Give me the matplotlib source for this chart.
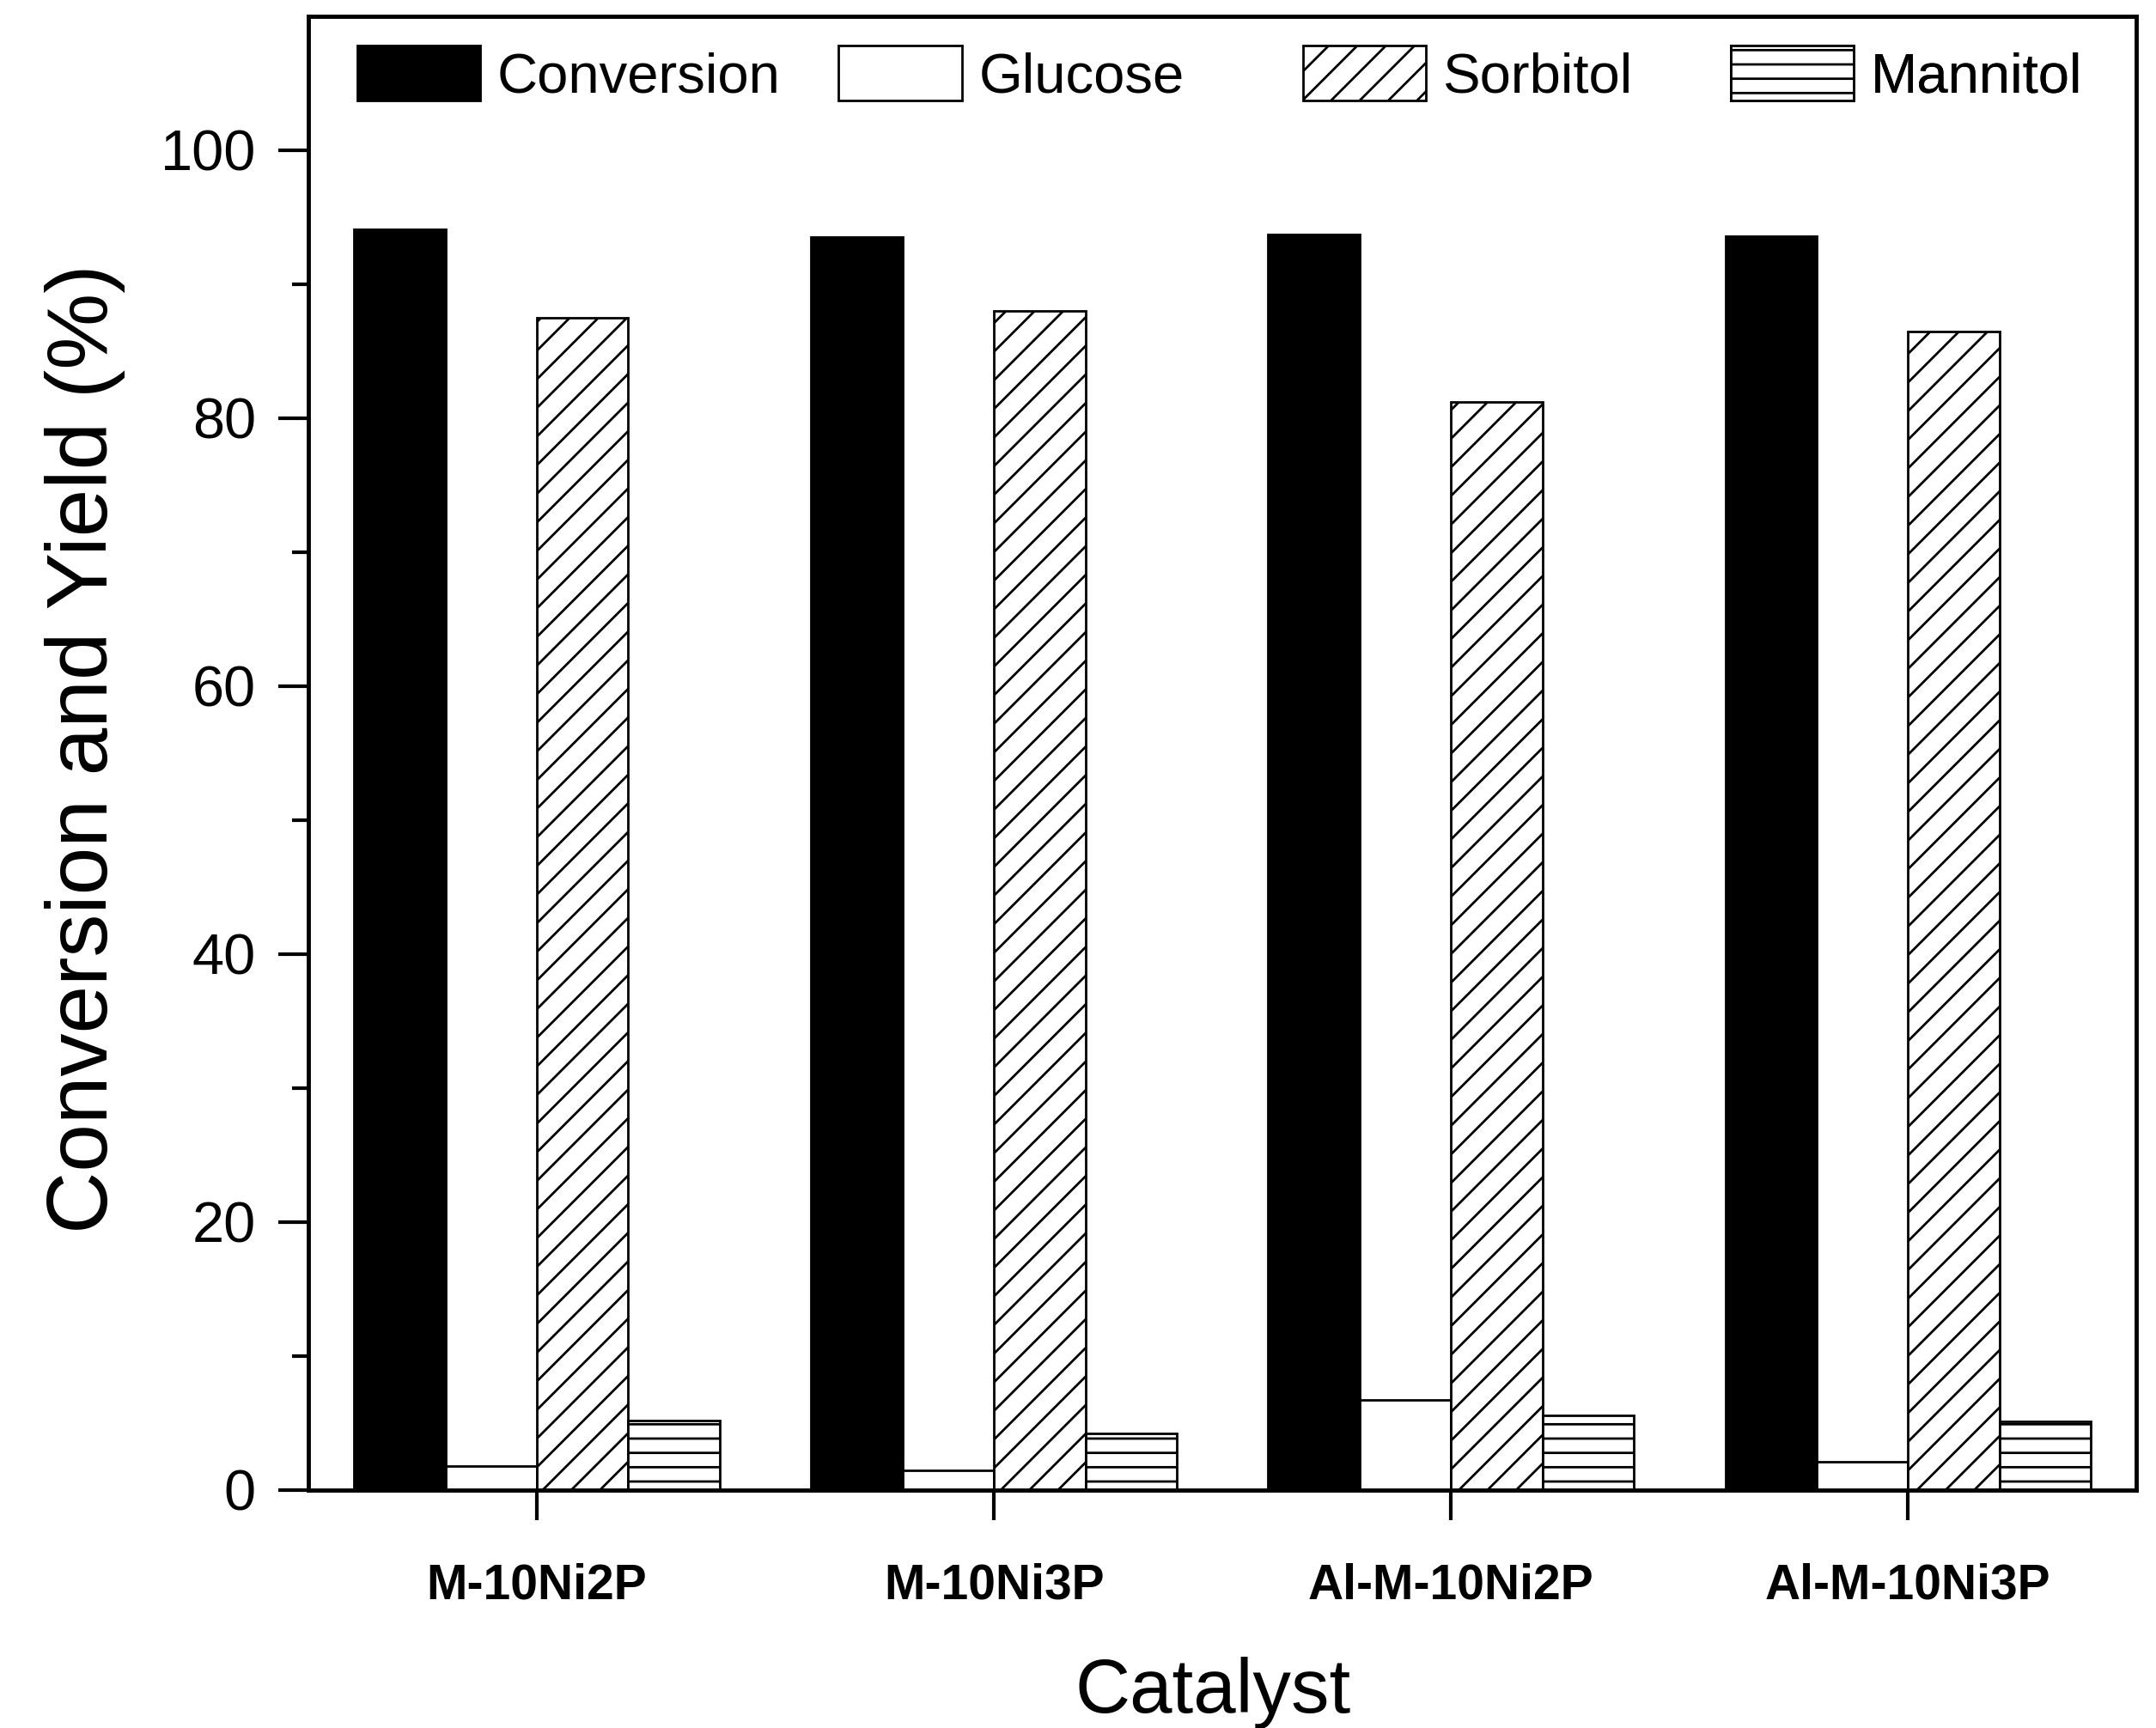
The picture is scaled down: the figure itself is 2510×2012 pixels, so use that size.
import numpy as np
import matplotlib
matplotlib.use("Agg")
import matplotlib.pyplot as plt

plt.rcParams['font.family'] = ['Liberation Sans', 'DejaVu Sans']
plt.rcParams['hatch.linewidth'] = 2.0

catalysts = ["M-10Ni2P", "M-10Ni3P", "Al-M-10Ni2P", "Al-M-10Ni3P"]
series_names = ["Conversion", "Glucose", "Sorbitol", "Mannitol"]
conversion = [94.1, 93.5, 93.7, 93.6]
glucose = [1.8, 1.5, 6.7, 2.1]
sorbitol = [87.5, 88.0, 81.2, 86.5]
mannitol = [5.2, 4.2, 5.6, 5.1]

fig = plt.figure(figsize=(25.1, 20.12), dpi=100)
ax = fig.add_axes([0.143, 0.1377, 0.848, 0.8529])

x = np.arange(len(catalysts))
w = 0.2
styles = [
    dict(facecolor="black", hatch=None),
    dict(facecolor="white", hatch=None),
    dict(facecolor="white", hatch="/"),
    dict(facecolor="white", hatch="-"),
]
bars = []
for i, (vals, name, st) in enumerate(zip([conversion, glucose, sorbitol, mannitol], series_names, styles)):
    b = ax.bar(x - 0.4 + i * w, vals, width=w, align="edge", label=name,
               edgecolor="black", linewidth=2, **st)
    bars.append(b)

ax.set_xlim(-0.5, 3.5)
ax.set_ylim(0, 110)
ax.set_yticks([0, 20, 40, 60, 80, 100])
ax.set_yticks(np.arange(10, 110, 20), minor=True)
ax.set_xticks(x)
ax.set_xticklabels(catalysts, fontsize=41, fontweight="bold")

for s in ax.spines.values():
    s.set_linewidth(3.5)
ax.tick_params(axis="y", which="major", length=25, width=3, labelsize=48, pad=19, direction="out")
ax.tick_params(axis="y", which="minor", length=14, width=3, direction="out")
ax.tick_params(axis="x", which="major", length=25, width=3, pad=36, direction="out")

ax.set_ylabel("Conversion and Yield (%)", fontsize=72)
ax.yaxis.set_label_coords(-0.100, 0.503)
ax.set_xlabel("Catalyst", fontsize=64)
ax.xaxis.set_label_coords(0.495, -0.113)

# legend entries placed one by one (uneven spacing in the original)
leg_x = [0.0266, 0.290, 0.544, 0.778]
for b, name, lx in zip(bars, series_names, leg_x):
    leg = ax.legend(handles=[b], labels=[name], loc="center left",
                    bbox_to_anchor=(lx, 0.9605), frameon=False, fontsize=47,
                    handlelength=2.2, handleheight=1.12, handletextpad=0.3,
                    borderpad=0, borderaxespad=0)
    ax.add_artist(leg)

fig.savefig("out.png", dpi=100)
